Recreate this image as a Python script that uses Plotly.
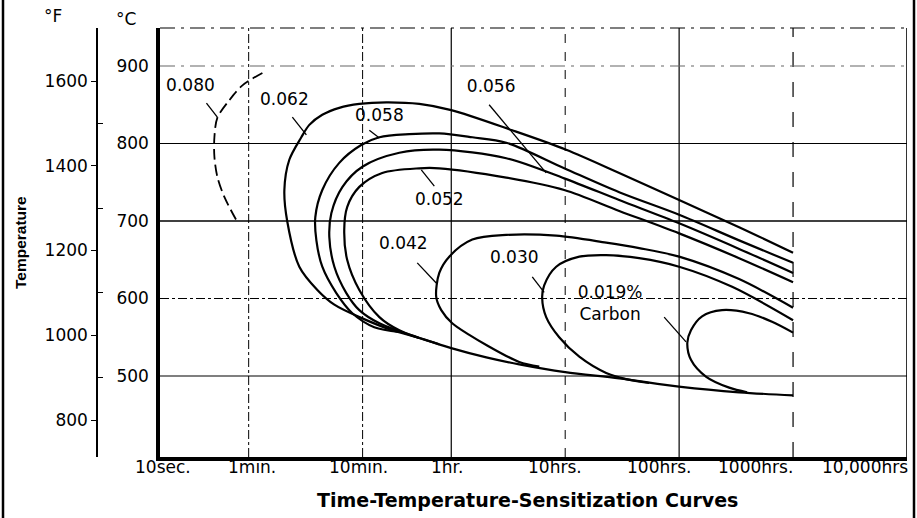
import math
import plotly.graph_objects as go

# ---------------- data ----------------
# time axis ticks (hours) and their labels
time_ticks_hr = [10 / 3600, 1 / 60, 10 / 60, 1, 10, 100, 1000, 10000]
time_tick_labels = ["10sec.", "1min.", "10min.", "1hr.", "10hrs.", "100hrs.", "1000hrs.", "10,000hrs"]
celsius_ticks = [500, 600, 700, 800, 900]
fahrenheit_ticks = [800, 1000, 1200, 1400, 1600]
fahrenheit_tick_labels = ["800", "1000", "1200", "1400", "1600"]

# sensitization curves: time (hours) and temperature (deg C)
c080_t = [0.0220, 0.0147, 0.0113, 0.00885, 0.00834, 0.00834, 0.00885, 0.0102, 0.0130]
c080_c = [891, 875, 856, 833, 808, 783, 757, 731, 701]

c062_t = [1000, 336, 100, 29.8, 10.2, 3.43, 1.0, 0.524, 0.269, 0.156, 0.104, 0.0738, 0.0568, 0.0483,
          0.0379, 0.0343, 0.0364, 0.0464, 0.0668, 0.0942, 0.162, 0.304, 0.524, 1.0, 2.03, 3.95, 10.0,
          29.8, 104, 336, 1000]
c062_c = [659, 692, 727, 762, 792, 817, 843, 851, 853, 851, 846, 837, 824, 808,
          779, 740, 699, 641, 611, 592, 575, 559, 549, 536, 524, 515, 505,
          497, 486, 479, 475]

c058_t = [1000, 336, 100, 29.8, 9.8, 3.04, 1.53, 0.785, 0.428, 0.234, 0.162, 0.104, 0.0738,
          0.0641, 0.0655, 0.0738, 0.098, 0.1355, 0.211, 0.350]
c058_c = [646, 675, 708, 737, 768, 801, 808, 813, 812, 808, 798, 775, 740,
          705, 675, 641, 607, 581, 563, 557]

c056_t = [1000, 336, 100, 29.8, 9.8, 3.04, 0.785, 0.350, 0.166, 0.111, 0.0886, 0.0851, 0.0942,
          0.120, 0.156, 0.234, 0.524]
c056_c = [633, 664, 697, 727, 755, 781, 792, 788, 770, 744, 710, 679, 641,
          607, 585, 568, 549]

c052_t = [1000, 336, 100, 29.8, 9.8, 3.04, 0.785, 0.524, 0.248, 0.156, 0.122, 0.115, 0.122,
          0.156, 0.234, 0.350, 0.785]
c052_c = [621, 652, 684, 713, 740, 756, 768, 768, 762, 744, 718, 688, 650,
          611, 576, 559, 541]

c042_t = [1000, 336, 100, 44.6, 22.9, 8.34, 3.04, 1.53, 0.960, 0.785, 0.738, 0.817, 1.02,
          1.44, 2.03, 3.95, 5.92]
c042_c = [588, 625, 654, 665, 672, 681, 682, 676, 654, 633, 602, 585, 568,
          553, 540, 518, 512]

c030_t = [1000, 292, 100, 44.6, 22.9, 13.3, 8.34, 6.54, 6.28, 6.81, 8.86, 13.3, 22.9, 34.3, 54.6]
c030_c = [572, 615, 641, 652, 656, 654, 641, 617, 601, 576, 550, 525, 504, 496, 491]

c019_t = [1000, 654, 411, 238, 159, 127, 118, 127, 173, 275, 395]
c019_c = [556, 570, 581, 585, 577, 559, 543, 521, 499, 485, 479]

# curve labels and leader lines
label_text = ["0.080", "0.062", "0.058", "0.056", "0.052", "0.042", "0.030", "0.019%<br>Carbon"]
label_t = [0.00514, 0.0343, 0.234, 2.24, 0.785, 0.379, 3.57, 24.8]
label_c = [873, 855, 834, 872, 726, 669, 651, 592]
leader_t0 = [0.00710, 0.0403, 0.191, 2.15, 0.710, 0.503, 5.14, 73.9]
leader_c0 = [852, 834, 817, 850, 745, 646, 628, 576]
leader_t1 = [0.00885, 0.0535, 0.234, 6.81, 0.546, 0.738, 6.54, 115]
leader_c1 = [834, 811, 807, 762, 766, 620, 608, 544]

# ---------------- layout constants ----------------
W, H = 917, 518
ML, MR, MT, MB = 0, 0, 28, 61
PLOT_L, PLOT_R = 160, 907
PH = H - MT - MB
FONT = "DejaVu Sans, Verdana, sans-serif"
FONT_NARROW = "Liberation Sans, Arial, sans-serif"


def px_x(p):
    return p / W


def px_y(p):
    return (H - MB - p) / PH


fig = go.Figure()

solid_curves = [(c062_t, c062_c), (c058_t, c058_c), (c056_t, c056_c), (c052_t, c052_c),
                (c042_t, c042_c), (c030_t, c030_c), (c019_t, c019_c)]
for t, c in solid_curves:
    fig.add_trace(go.Scatter(x=t, y=c, mode="lines",
                             line=dict(color="black", width=2.2, shape="spline", smoothing=0.9),
                             hoverinfo="skip", showlegend=False))

fig.add_trace(go.Scatter(x=c080_t, y=c080_c, mode="lines",
                         line=dict(color="black", width=1.8, dash="11px,5px", shape="spline", smoothing=0.9),
                         hoverinfo="skip", showlegend=False))

# leader lines
lx, ly = [], []
for a, b, c_, d in zip(leader_t0, leader_c0, leader_t1, leader_c1):
    lx += [a, c_, None]
    ly += [b, d, None]
fig.add_trace(go.Scatter(x=lx, y=ly, mode="lines", line=dict(color="black", width=1.3),
                         hoverinfo="skip", showlegend=False))

# labels
fig.add_trace(go.Scatter(x=label_t, y=label_c, mode="text", text=label_text,
                         textposition="middle center",
                         textfont=dict(family=FONT, size=17, color="black"),
                         hoverinfo="skip", showlegend=False))

# empty trace to register the Fahrenheit axis
fig.add_trace(go.Scatter(x=[], y=[], yaxis="y2", showlegend=False, hoverinfo="skip"))

# ---------------- grid lines ----------------
shapes = []
v_styles = {1: ("dashdot", 1.0), 2: ("dashdot", 1.0), 3: ("solid", 1.2), 4: ("dash", 1.0),
            5: ("solid", 1.2), 6: ("longdash", 1.2), 7: ("solid", 1.6)}
for i, tv in enumerate(time_ticks_hr):
    if i in v_styles:
        dash, w = v_styles[i]
        shapes.append(dict(type="line", xref="x", yref="paper", x0=tv, x1=tv, y0=0, y1=1,
                           line=dict(color="black", width=w, dash=dash), layer="below"))
h_styles = {500: ("solid", 1.2, "black"), 600: ("dashdot", 1.0, "black"), 700: ("solid", 1.4, "black"),
            800: ("solid", 1.2, "black"), 900: ("longdashdot", 1.2, "#666")}
for cv in celsius_ticks:
    dash, w, col = h_styles[cv]
    shapes.append(dict(type="line", xref="paper", yref="y", x0=px_x(PLOT_L), x1=px_x(PLOT_R), y0=cv, y1=cv,
                       line=dict(color=col, width=w, dash=dash), layer="below"))
# top border
shapes.append(dict(type="line", xref="paper", yref="paper", x0=px_x(PLOT_L), x1=px_x(PLOT_R), y0=1, y1=1,
                   line=dict(color="black", width=1.2, dash="longdashdot"), layer="below"))
# outer frame (left & right)
for fx in (3, 914):
    shapes.append(dict(type="line", xref="paper", yref="paper", x0=px_x(fx), x1=px_x(fx),
                       y0=-MB / PH, y1=1 + MT / PH, line=dict(color="black", width=2.5)))

# ---------------- annotations ----------------
annotations = []
tick_shift = [3, 3, -4, -4, -10, -20, -38, -42]
for tv, tl, sh in zip(time_ticks_hr, time_tick_labels, tick_shift):
    annotations.append(dict(x=math.log10(tv), y=px_y(467), xref="x", yref="paper", text=tl,
                            showarrow=False, xshift=sh, xanchor="center", yanchor="middle",
                            font=dict(family=FONT, size=17, color="black")))
annotations.append(dict(x=px_x(527), y=px_y(500), xref="paper", yref="paper",
                        text="<b>Time-Temperature-Sensitization Curves</b>", showarrow=False,
                        xanchor="center", yanchor="middle", font=dict(family=FONT, size=19, color="black")))
annotations.append(dict(x=px_x(20), y=px_y(243), xref="paper", yref="paper", text="<b>Temperature</b>",
                        textangle=-90, showarrow=False, xanchor="center", yanchor="middle",
                        font=dict(family=FONT_NARROW, size=15.5, color="black")))
annotations.append(dict(x=px_x(53), y=px_y(16), xref="paper", yref="paper", text="°F", showarrow=False,
                        xanchor="center", yanchor="middle", font=dict(family=FONT, size=17, color="black")))
annotations.append(dict(x=px_x(126), y=px_y(19), xref="paper", yref="paper", text="°C", showarrow=False,
                        xanchor="center", yanchor="middle", font=dict(family=FONT, size=17, color="black")))

fig.update_layout(
    width=W, height=H,
    margin=dict(l=ML, r=MR, t=MT, b=MB),
    paper_bgcolor="white", plot_bgcolor="white",
    showlegend=False,
    font=dict(family=FONT, size=17, color="black"),
    shapes=shapes,
    annotations=annotations,
    xaxis=dict(type="log", range=[math.log10(time_ticks_hr[0]), math.log10(time_ticks_hr[-1])],
               domain=[px_x(PLOT_L), px_x(PLOT_R)], tickvals=time_ticks_hr, showticklabels=False,
               ticks="", showgrid=False, zeroline=False, showline=True, linecolor="black", linewidth=3.5),
    yaxis=dict(range=[395.5, 949], tickvals=celsius_ticks, ticks="", showgrid=False, zeroline=False,
               showline=True, linecolor="black", linewidth=3.5, ticklabelstandoff=4,
               tickfont=dict(family=FONT, size=17, color="black")),
    yaxis2=dict(overlaying="y", anchor="free", position=px_x(97), side="left",
                range=[712.7, 1725.1], tickvals=fahrenheit_ticks, ticktext=fahrenheit_tick_labels,
                ticks="outside", ticklen=5, tickwidth=1.3, tickcolor="black",
                minor=dict(tickvals=[900, 1100, 1300, 1500], ticks="inside", ticklen=5, tickcolor="black"),
                showgrid=False, zeroline=False, showline=True, linecolor="black", linewidth=1.5,
                tickfont=dict(family=FONT, size=17, color="black")),
)

fig.write_html("out.html", config={"displayModeBar": False},
               post_script="document.body.style.margin='0px';")
